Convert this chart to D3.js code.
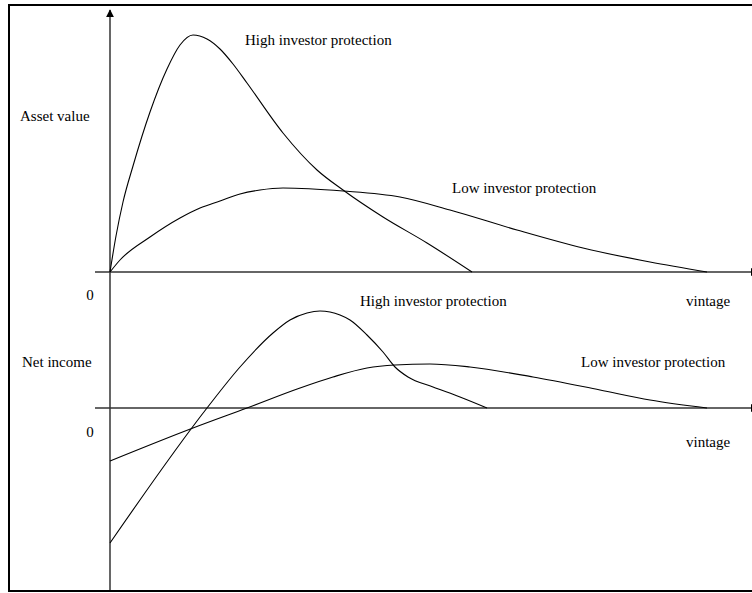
<!DOCTYPE html>
<html>
<head>
<meta charset="utf-8">
<script src="https://cdn.jsdelivr.net/npm/d3@7"></script>
<style>
  body { margin: 0; background: #fff; }
</style>
</head>
<body>
<div id="chart"></div>
<script>
// DATA (vintage in arbitrary units, values in arbitrary units)
const highAssetX = [0, 6, 13, 23, 40, 57, 70, 83, 97, 110, 123, 137, 173, 207, 233, 273, 317, 362];
const highAssetY = [0, 36, 70, 106, 160, 203, 227, 237, 233, 223, 208, 189, 139, 102, 82, 55, 29, 0];

const lowAssetX = [0, 10, 40, 70, 90, 110, 130, 150, 173, 233, 290, 340, 407, 473, 540, 597];
const lowAssetY = [0, 12, 35, 54, 64, 71, 78, 82, 84, 81, 75, 62, 42, 24, 10, 0];

const highIncomeX = [0, 97, 130, 163, 180, 197, 210, 230, 240, 257, 273, 285, 298, 323, 350, 377];
const highIncomeY = [-135, 0, 41, 75, 88, 95, 97, 93, 88, 73, 56, 41, 31, 21, 11, 0];

const lowIncomeX = [0, 83, 137, 190, 223, 257, 285, 320, 360, 423, 490, 540, 597];
const lowIncomeY = [-53, -20, 0, 20, 31, 40, 43, 44, 41, 31, 18, 8, 0];

const labels = {
  high: "High investor protection",
  low: "Low investor protection",
  asset: "Asset value",
  income: "Net income",
  vintage: "vintage",
  zero: "0"
};

// SVG
const W = 752, H = 593;
const svg = d3.select("#chart").append("svg")
  .attr("width", W)
  .attr("height", H);

svg.append("defs").append("marker")
  .attr("id", "arrow")
  .attr("viewBox", "0 0 10 10")
  .attr("refX", 9).attr("refY", 5)
  .attr("markerWidth", 8).attr("markerHeight", 8)
  .attr("markerUnits", "userSpaceOnUse")
  .attr("orient", "auto")
  .append("path")
  .attr("d", "M0,0 L10,5 L0,10 Z")
  .attr("fill", "#000");

// frame
svg.append("rect")
  .attr("x", 9).attr("y", 5)
  .attr("width", 760).attr("height", 586)
  .attr("fill", "none")
  .attr("stroke", "#000")
  .attr("stroke-width", 2);

// SCALES
const x = d3.scaleLinear().domain([0, 640]).range([110, 750]);
const yTop = d3.scaleLinear().domain([0, 262]).range([272, 10]);
const yBot = d3.scaleLinear().domain([-182, 130]).range([590, 278]);

// AXES
svg.append("line")
  .attr("x1", x(0)).attr("y1", yBot(-182))
  .attr("x2", x(0)).attr("y2", yTop(262))
  .attr("stroke", "#000").attr("stroke-width", 1.2)
  .attr("marker-end", "url(#arrow)");

svg.append("line")
  .attr("x1", x(-15)).attr("y1", yTop(0))
  .attr("x2", x(648)).attr("y2", yTop(0))
  .attr("stroke", "#333").attr("stroke-width", 1.4)
  .attr("marker-end", "url(#arrow)");

svg.append("line")
  .attr("x1", x(-15)).attr("y1", yBot(0))
  .attr("x2", x(648)).attr("y2", yBot(0))
  .attr("stroke", "#333").attr("stroke-width", 1.4)
  .attr("marker-end", "url(#arrow)");

// CURVES
function drawCurve(xs, ys, yScale) {
  const pts = xs.map((d, i) => [d, ys[i]]);
  const line = d3.line()
    .x(d => x(d[0]))
    .y(d => yScale(d[1]))
    .curve(d3.curveMonotoneX);
  svg.append("path")
    .attr("d", line(pts))
    .attr("fill", "none")
    .attr("stroke", "#000")
    .attr("stroke-width", 1.1);
}
drawCurve(highAssetX, highAssetY, yTop);
drawCurve(lowAssetX, lowAssetY, yTop);
drawCurve(highIncomeX, highIncomeY, yBot);
drawCurve(lowIncomeX, lowIncomeY, yBot);

// TEXT
function label(t, px, py, anchor) {
  svg.append("text")
    .attr("x", px).attr("y", py)
    .attr("text-anchor", anchor || "start")
    .attr("font-family", "'Liberation Serif', 'DejaVu Serif', serif")
    .attr("font-size", 15)
    .attr("fill", "#000")
    .text(t);
}
label(labels.high, 245, 45);
label(labels.low, 452, 193);
label(labels.asset, 20, 121);
label(labels.zero, 90, 300, "middle");
label(labels.vintage, 686, 306);
label(labels.high, 360, 306);
label(labels.low, 581, 367);
label(labels.income, 22, 367);
label(labels.zero, 90, 437, "middle");
label(labels.vintage, 686, 447);
</script>
</body>
</html>
